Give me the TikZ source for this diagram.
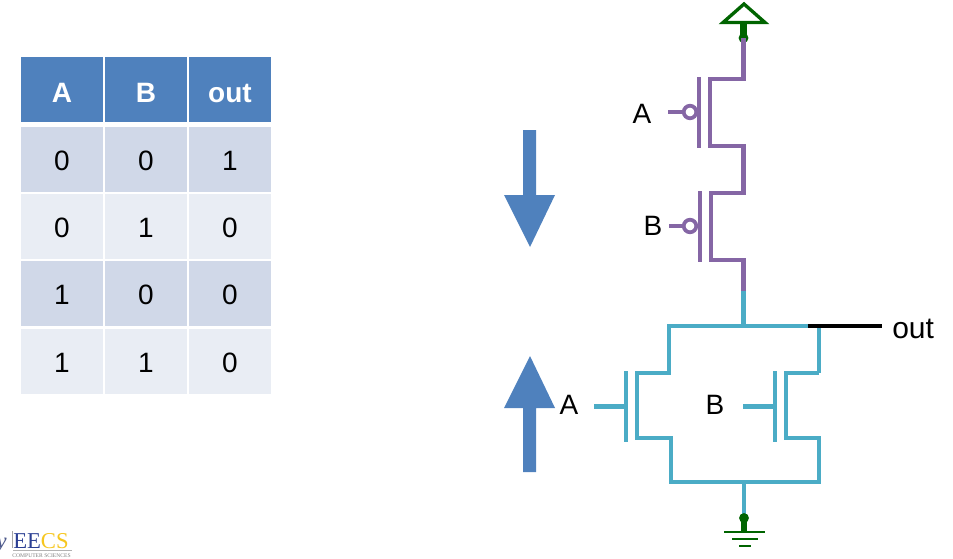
\documentclass[tikz,border=0pt]{standalone}
\usepackage{fontspec}
\setmainfont{Liberation Sans}
\newfontfamily\logofont{Liberation Serif}
\definecolor{hdrblue}{HTML}{4F81BD}
\definecolor{rowdark}{HTML}{D0D8E8}
\definecolor{rowlight}{HTML}{E9EDF4}
\definecolor{pmos}{HTML}{8566A5}
\definecolor{nmos}{HTML}{4BACC6}
\definecolor{rail}{HTML}{006400}
\definecolor{eecsblue}{HTML}{2B3F93}
\definecolor{eecsgold}{HTML}{F6C61E}
\tikzset{
    cell/.style={minimum width=61.5pt,minimum height=48.75pt,inner sep=0pt,text height=16.5pt,text depth=0pt,font=\fontsize{21}{21}\selectfont},
    hdr/.style={cell,fill=hdrblue,text=white,text height=19.5pt,font=\fontsize{21}{21}\selectfont\bfseries},
    label/.style={inner sep=0pt,font=\fontsize{21}{21}\selectfont},
    pwire/.style={draw=pmos,line width=3.6pt,miter limit=10},
    nwire/.style={draw=nmos,line width=3.6pt,miter limit=10},
    gwire/.style={draw=rail,line width=1.8pt},
    bubble/.style={circle,draw=pmos,fill=white,line width=2.8pt,minimum size=9.4pt,inner sep=0pt},
    bigarrow/.style={fill=hdrblue,draw=none},
}
\begin{document}
\begin{tikzpicture}[x=0.75pt,y=-0.75pt]
    \useasboundingbox (0,0) rectangle (953,558);
    % truth table
    \foreach \col/\x/\txt in {a/62/A,b/146/B,o/230/out}
        \node[hdr] (head\col) at (\x,89.5) {\txt};
    \foreach \row/\y/\shade/\va/\vb/\vo in {1/159.5/rowdark/0/0/1,2/226.5/rowlight/0/1/0,3/293.5/rowdark/1/0/0,4/361/rowlight/1/1/0}{
        \node[cell,fill=\shade] (a\row) at (62,\y) {\va};
        \node[cell,fill=\shade] (b\row) at (146,\y) {\vb};
        \node[cell,fill=\shade] (o\row) at (230,\y) {\vo};
    }
    % big arrows
    \fill[bigarrow] (523,130)--(536,130)--(536,195)--(555,195)--(530,247)--(504,195)--(523,195)--cycle;
    \fill[bigarrow] (523,472)--(536,472)--(536,408)--(555,408)--(530,356)--(504,408)--(523,408)--cycle;
    % pull-up network
    \coordinate (vddpin) at (743.5,38);
    \coordinate (midpin) at (743.5,291);
    \coordinate (outjoin) at (743.5,326);
    \draw[gwire,fill=white,line width=2.5pt] (744,4)--(765,22.5)--(723,22.5)--cycle;
    \draw[rail,line width=5.6pt] (743.5,23)--(vddpin);
    \fill[rail] (vddpin) circle (3.7pt);
    \draw[pwire] (vddpin)--(743.5,79)--(710,79)--(710,146)--(743.5,146)--(743.5,193)--(711,193)--(711,260)--(743.5,260)--(midpin);
    \draw[pwire] (699,77)--(699,148);
    \draw[pwire] (700,191)--(700,262);
    \node[bubble] (bubblea) at (690,112) {};
    \node[bubble] (bubbleb) at (690,226) {};
    \coordinate (stuba) at (668,112);
    \coordinate (stubb) at (669,226);
    \draw[pwire] (stuba)--(bubblea);
    \draw[pwire] (stubb)--(bubbleb);
    \node[label] (inputa) at (642,114) {A};
    \node[label] (inputb) at (653,226) {B};
    % pull-down network
    \draw[nwire] (midpin)--(outjoin);
    \draw[nwire] (819,373)--(819,326)--(669,326)--(669,373)--(637,373)--(637,438)--(671,438)--(671,482)--(819,482)--(819,438)--(786,438)--(786,373)--(819,373);
    \draw[nwire] (626,371)--(626,442);
    \draw[nwire] (775,371)--(775,442);
    \coordinate (stubc) at (594,406.5);
    \coordinate (stubd) at (743,406.5);
    \coordinate (gatec) at (626,406.5);
    \coordinate (gated) at (775,406.5);
    \draw[nwire] (stubc)--(gatec);
    \draw[nwire] (stubd)--(gated);
    \node[label] (inputc) at (569,405) {A};
    \node[label] (inputd) at (715,405) {B};
    \coordinate (gndjoin) at (744,482);
    \coordinate (gndpin) at (744,518);
    \draw[nwire] (gndjoin)--(gndpin);
    \fill[rail] (gndpin) circle (3.7pt);
    \draw[rail,line width=5.2pt] (gndpin)--(744,532);
    \draw[gwire] (724,532)--(765,532);
    \draw[gwire] (732,539)--(758,539);
    \draw[gwire] (739,546)--(751,546);
    % output
    \coordinate (outstart) at (808,326);
    \node[label,anchor=west,font=\fontsize{22.5}{22.5}\selectfont] (outlabel) at (892,328.5) {out};
    \draw[black,line width=3.6pt] (outstart)--(882,326);
    % logo in the corner
    \node[inner sep=0pt,anchor=base east,text=eecsblue!60!gray,font=\logofont\fontsize{17}{17}\selectfont\itshape] (logoy) at (7,548) {y};
    \draw[gray!70,line width=0.5pt] (12,531)--(12,548);
    \node[inner sep=0pt,anchor=base west,font=\logofont\fontsize{17}{17}\selectfont] (logoname) at (13,548) {\textcolor{eecsblue}{EE}\textcolor{eecsgold}{CS}};
    \draw[gray!60,line width=0.6pt] (13,550)--(72,550);
    \node[inner sep=0pt,anchor=base east,text=gray,font=\logofont\fontsize{4.2}{5}\selectfont] (logosub) at (71,557.5) {COMPUTER SCIENCES};
\end{tikzpicture}
\end{document}
